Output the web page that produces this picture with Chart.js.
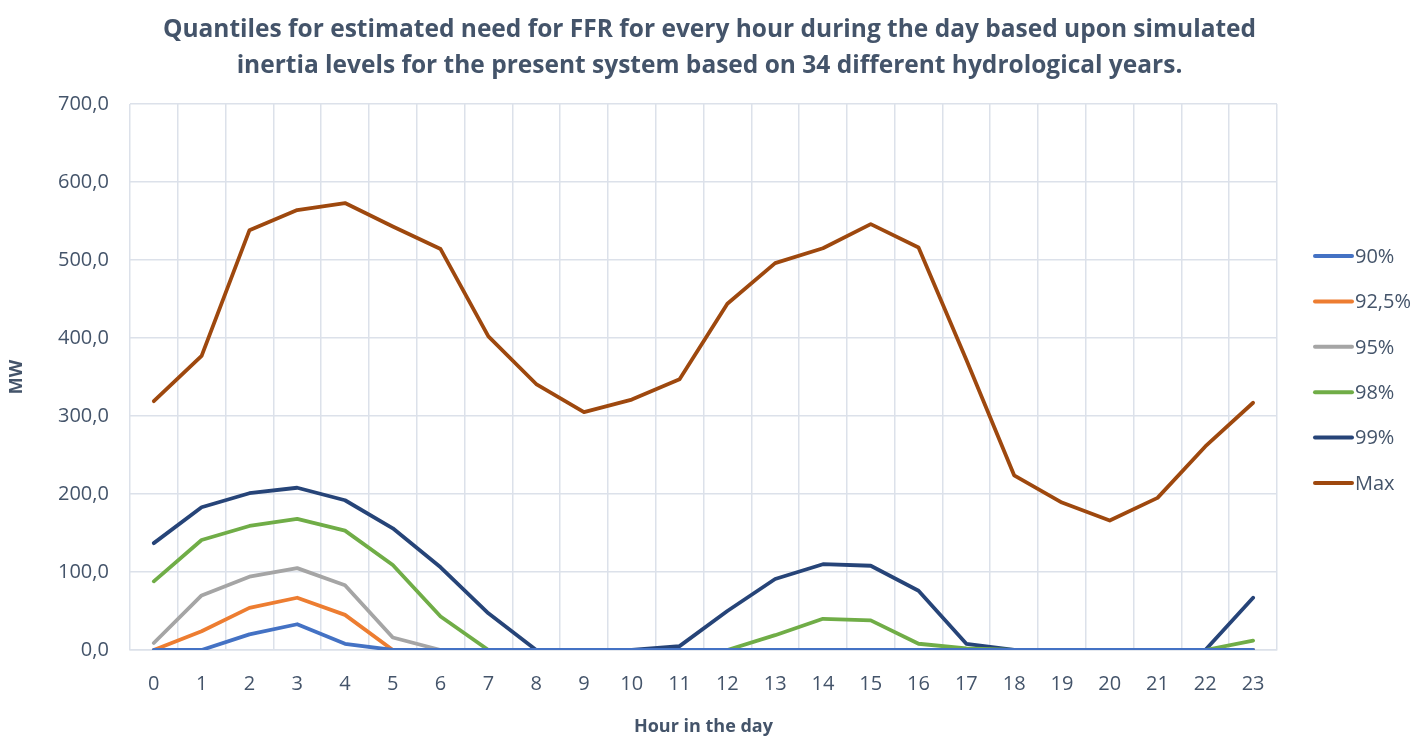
<!DOCTYPE html>
<html>
<head>
<meta charset="utf-8">
<script src="https://cdn.jsdelivr.net/npm/chart.js@4/dist/chart.umd.min.js"></script>
<style>
  html, body { margin: 0; padding: 0; background: #ffffff; }
  #wrap { width: 1411px; height: 736px; }
</style>
</head>
<body>
<div id="wrap"><canvas id="ffr-chart" width="1411" height="736"></canvas></div>
<script>
// hours of the day
const hours = ["0", "1", "2", "3", "4", "5", "6", "7", "8", "9", "10", "11",
  "12", "13", "14", "15", "16", "17", "18", "19", "20", "21", "22", "23"];

// MW per quantile
const q90 = [0, 0, 20, 33, 8, 0, 0, 0, 0, 0, 0, 0,
  0, 0, 0, 0, 0, 0, 0, 0, 0, 0, 0, 0];
const q925 = [0, 24, 54, 67, 45, 0, 0, 0, 0, 0, 0, 0,
  0, 0, 0, 0, 0, 0, 0, 0, 0, 0, 0, 0];
const q95 = [9, 70, 94, 105, 83, 16, 0, 0, 0, 0, 0, 0,
  0, 0, 0, 0, 0, 0, 0, 0, 0, 0, 0, 0];
const q98 = [88, 141, 159, 168, 153, 109, 43, 0, 0, 0, 0, 0,
  0, 19, 40, 38, 8, 2, 0, 0, 0, 0, 0, 12];
const q99 = [137, 183, 201, 208, 192, 156, 106, 47, 0, 0, 0, 5,
  50, 91, 110, 108, 76, 8, 0, 0, 0, 0, 0, 67];
const qMax = [319, 377, 538, 564, 573, 543, 514, 402, 341, 305, 321, 347,
  444, 496, 515, 546, 516, 372, 224, 189, 166, 195, 261, 317];

const seriesNames = ["90%", "92,5%", "95%", "98%", "99%", "Max"];
const yTicks = [0, 100, 200, 300, 400, 500, 600, 700];

const colors = ["#4472c4", "#ed7d31", "#a5a5a5", "#70ad47", "#264478", "#9e480e"];
const textColor = "#44546a";
const gridColor = "#dce1ea";
const fontName = "'Open Sans', 'Noto Sans', sans-serif";

const allSeries = [q90, q925, q95, q98, q99, qMax];

const datasets = allSeries.map(function (values, i) {
  return {
    label: seriesNames[i],
    data: values,
    borderColor: colors[i],
    backgroundColor: colors[i],
    borderWidth: 3.8,
    borderCapStyle: "round",
    borderJoinStyle: "round",
    pointRadius: 0,
    pointHoverRadius: 0,
    tension: 0,
  };
});

// legend box on the right, placed by chart.js layout so the title stays centred
const sideLegend = {
  id: "sideLegend",
  beforeInit: function (chart) {
    const box = {
      position: "right",
      weight: 1000,
      fullSize: false,
      options: {},
      isHorizontal: function () { return false; },
      update: function (maxWidth, maxHeight) {
        this.width = 134;
        this.height = maxHeight;
      },
      draw: function () {
        const ctx = chart.ctx;
        const step = 45.4;
        const count = chart.data.datasets.length;
        const midY = 369.5;
        const x0 = this.left + 38;
        ctx.save();
        ctx.font = "20px " + fontName;
        ctx.textBaseline = "middle";
        ctx.textAlign = "left";
        chart.data.datasets.forEach(function (ds, i) {
          const y = midY + (i - (count - 1) / 2) * step;
          ctx.strokeStyle = ds.borderColor;
          ctx.lineWidth = 4;
          ctx.lineCap = "round";
          ctx.beginPath();
          ctx.moveTo(x0, y);
          ctx.lineTo(x0 + 37, y);
          ctx.stroke();
          ctx.fillStyle = textColor;
          ctx.fillText(ds.label, x0 + 40, y + 1);
        });
        ctx.restore();
      },
    };
    Chart.layouts.addBox(chart, box);
  },
};

const config = {
  type: "line",
  data: {
    labels: hours,
    datasets: datasets,
  },
  options: {
    responsive: false,
    animation: false,
    devicePixelRatio: 1,
    layout: {
      padding: { left: 8, right: 0, top: 6, bottom: 0 },
    },
    plugins: {
      title: {
        display: true,
        text: [
          "Quantiles for estimated need for FFR for every hour during the day based upon simulated",
          "inertia levels for the present system based on 34 different hydrological years.",
        ],
        color: textColor,
        font: { family: fontName, size: 24.5, weight: "bold", lineHeight: 36 / 24.5 },
        padding: { top: 6, bottom: 20 },
      },
      legend: { display: false },
      tooltip: { enabled: false },
    },
    scales: {
      x: {
        offset: true,
        grid: {
          offset: true,
          color: gridColor,
          lineWidth: 1.5,
          drawTicks: false,
        },
        border: { color: gridColor, width: 1.5 },
        ticks: {
          color: textColor,
          font: { family: fontName, size: 20 },
          padding: 22,
          maxRotation: 0,
          autoSkip: false,
        },
        title: {
          display: true,
          text: "Hour in the day",
          color: textColor,
          font: { family: fontName, size: 18, weight: "bold", lineHeight: 1 },
          padding: { top: 0, bottom: 0 },
        },
      },
      y: {
        min: yTicks[0],
        max: yTicks[yTicks.length - 1],
        afterBuildTicks: function (axis) {
          axis.ticks = yTicks.map(function (v) { return { value: v }; });
        },
        grid: {
          color: gridColor,
          lineWidth: 1.5,
          drawTicks: false,
        },
        border: { display: false },
        ticks: {
          color: textColor,
          font: { family: fontName, size: 20 },
          padding: 21,
          callback: function (value) {
            return value.toFixed(1).replace(".", ",");
          },
        },
        title: {
          display: true,
          text: "MW",
          color: textColor,
          font: { family: fontName, size: 18, weight: "bold", lineHeight: 1 },
          padding: { top: 0, bottom: 11 },
        },
      },
    },
  },
  plugins: [sideLegend],
};

const chart = new Chart(document.getElementById("ffr-chart"), config);
</script>
</body>
</html>
